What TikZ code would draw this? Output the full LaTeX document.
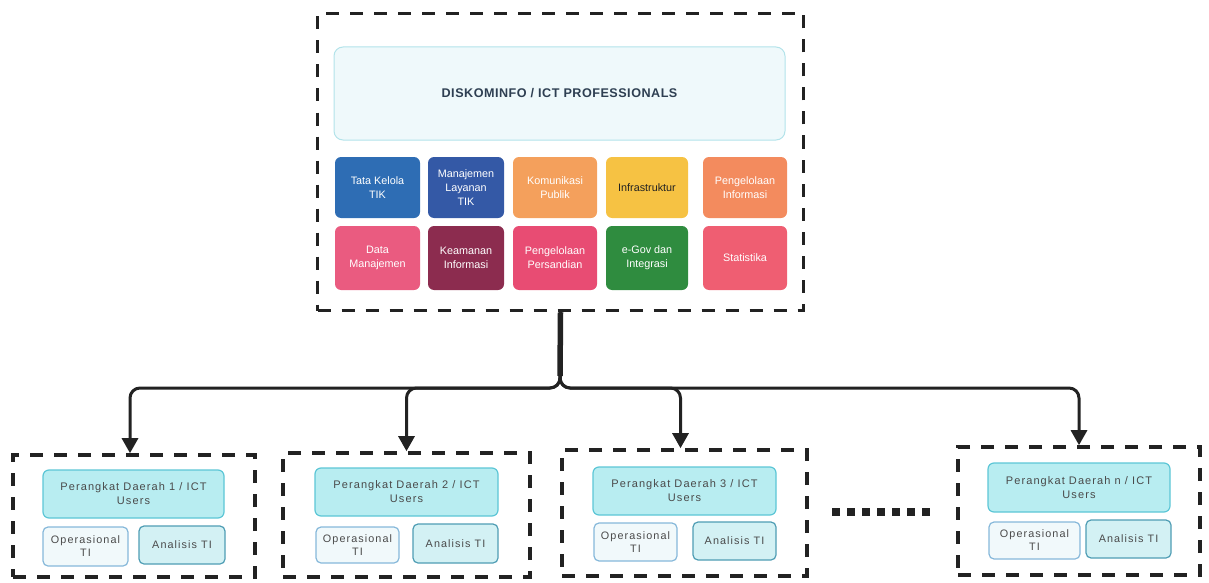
\documentclass[tikz,border=0pt]{standalone}
\usepackage{fontspec}
\setmainfont{Liberation Sans}
\newfontfamily\spacedfont{Liberation Sans}[LetterSpace=10]
\newfontfamily\headfont{Liberation Sans}[LetterSpace=4]
\usetikzlibrary{arrows.meta}
\definecolor{ink}{HTML}{222222}
\definecolor{hdfill}{HTML}{EFF9FB}
\definecolor{hdline}{HTML}{B3E3EA}
\definecolor{hdtext}{HTML}{2E3F52}
\definecolor{cyfill}{HTML}{B8EDF1}
\definecolor{cyline}{HTML}{5CC6D6}
\definecolor{opfill}{HTML}{F1F9FB}
\definecolor{opline}{HTML}{86B8DA}
\definecolor{anfill}{HTML}{D3F1F4}
\definecolor{anline}{HTML}{4F9DB4}
\definecolor{subtext}{HTML}{4A4A4A}
\definecolor{cA}{HTML}{2E6DB4}
\definecolor{cB}{HTML}{3459A6}
\definecolor{cC}{HTML}{F4A05C}
\definecolor{cD}{HTML}{F6C243}
\definecolor{cE}{HTML}{F38B5E}
\definecolor{cF}{HTML}{EA5B80}
\definecolor{cG}{HTML}{8C2C4F}
\definecolor{cH}{HTML}{E84C73}
\definecolor{cI}{HTML}{2F8C3F}
\definecolor{cJ}{HTML}{EF5E72}
\tikzset{
  dashbox/.style={draw=ink, line width=3.6pt, dash pattern=on 13pt off 11pt, inner sep=0pt},
  tile/.style={rounded corners=6pt, inner sep=1pt, align=center, text=white,
    font=\fontsize{10.8}{14}\selectfont},
  hdbox/.style={rounded corners=9pt, draw=hdline, fill=hdfill, line width=1pt, inner sep=0pt,
    font=\headfont\bfseries\fontsize{12.6}{14}\selectfont, text=hdtext},
  userbox/.style={rounded corners=6pt, draw=cyline, fill=cyfill, line width=1.2pt, inner sep=0pt,
    align=center, text=subtext, font=\spacedfont\fontsize{11}{14}\selectfont},
  opbox/.style={rounded corners=5pt, draw=opline, fill=opfill, line width=1.2pt, inner sep=0pt,
    align=center, text=subtext, font=\spacedfont\fontsize{10.8}{13}\selectfont},
  anbox/.style={rounded corners=5pt, draw=anline, fill=anfill, line width=1.2pt, inner sep=0pt,
    align=center, text=subtext, font=\spacedfont\fontsize{10.8}{13}\selectfont},
  stem/.style={draw=ink, line width=5.5pt},
  branch/.style={draw=ink, line width=3pt, rounded corners=10pt,
    -{Triangle[width=16pt,length=15pt]}},
  dotsq/.style={fill=ink, minimum width=8pt, minimum height=8pt, inner sep=0pt}
}
\begin{document}
\begin{tikzpicture}[x=1pt,y=-1pt]
\useasboundingbox (0,0) rectangle (1209,583);
% top box
\node[dashbox, minimum width=486pt, minimum height=297pt] (top) at (560.5,162) {};
\node[hdbox, minimum width=451pt, minimum height=93pt] (hd) at (559.5,93.5) {DISKOMINFO / ICT PROFESSIONALS};
% tiles row 1
\node[tile, fill=cA, minimum width=85pt, minimum height=61pt] (t1) at (377.5,187.5) {Tata Kelola\\TIK};
\node[tile, fill=cB, minimum width=76pt, minimum height=61pt] (t2) at (466,187.5) {Manajemen\\Layanan\\TIK};
\node[tile, fill=cC, minimum width=84pt, minimum height=61pt] (t3) at (555,187.5) {Komunikasi\\Publik};
\node[tile, fill=cD, minimum width=82pt, minimum height=61pt, text=ink] (t4) at (647,187.5) {Infrastruktur};
\node[tile, fill=cE, minimum width=84pt, minimum height=61pt] (t5) at (745,187.5) {Pengelolaan\\Informasi};
% tiles row 2
\node[tile, fill=cF, minimum width=85pt, minimum height=64pt] (t6) at (377.5,258) {Data\\Manajemen};
\node[tile, fill=cG, minimum width=76pt, minimum height=64pt] (t7) at (466,258) {Keamanan\\Informasi};
\node[tile, fill=cH, minimum width=84pt, minimum height=64pt] (t8) at (555,258) {Pengelolaan\\Persandian};
\node[tile, fill=cI, minimum width=82pt, minimum height=64pt] (t9) at (647,258) {e-Gov dan\\Integrasi};
\node[tile, fill=cJ, minimum width=84pt, minimum height=64pt] (t10) at (745,258) {Statistika};
% bottom boxes
\node[dashbox, minimum width=242pt, minimum height=122pt] (b1) at (134,516) {};
\node[dashbox, minimum width=247pt, minimum height=124pt] (b2) at (406.5,515) {};
\node[dashbox, minimum width=245pt, minimum height=126pt] (b3) at (684.5,513) {};
\node[dashbox, minimum width=242pt, minimum height=128pt] (b4) at (1079,511) {};
% box 1 content
\node[userbox, minimum width=181pt, minimum height=48pt] (u1) at (133.5,494) {Perangkat Daerah 1 / ICT\\Users};
\node[opbox, minimum width=85pt, minimum height=39pt] (o1) at (85.5,546.5) {Operasional\\TI};
\node[anbox, minimum width=86pt, minimum height=38pt] (a1) at (182,545) {Analisis TI};
% box 2 content
\node[userbox, minimum width=183pt, minimum height=48pt] (u2) at (406.5,492) {Perangkat Daerah 2 / ICT\\Users};
\node[opbox, minimum width=83pt, minimum height=36pt] (o2) at (357.5,545) {Operasional\\TI};
\node[anbox, minimum width=85pt, minimum height=39pt] (a2) at (455.5,543.5) {Analisis TI};
% box 3 content
\node[userbox, minimum width=183pt, minimum height=48pt] (u3) at (684.5,491) {Perangkat Daerah 3 / ICT\\Users};
\node[opbox, minimum width=83pt, minimum height=38pt] (o3) at (635.5,542) {Operasional\\TI};
\node[anbox, minimum width=83pt, minimum height=38pt] (a3) at (734.5,541) {Analisis TI};
% box n content
\node[userbox, minimum width=182pt, minimum height=49pt] (u4) at (1079,487.5) {Perangkat Daerah n / ICT\\Users};
\node[opbox, minimum width=91pt, minimum height=37pt] (o4) at (1034.5,540.5) {Operasional\\TI};
\node[anbox, minimum width=85pt, minimum height=38pt] (a4) at (1128.5,539) {Analisis TI};
% dots
\foreach \i in {0,...,6} {
  \node[dotsq] (d\i) at ({836+\i*15},512) {};
}
% connectors
\coordinate (j) at (560,388);
\coordinate (s) at (560,376);
\draw[stem] (top.south) -- (s);
\draw[branch] (top.south) -- (j) -| ([xshift=-4pt]b1.north);
\draw[branch] (top.south) -- (j) -| (b2.north);
\draw[branch] (top.south) -- (j) -| ([xshift=-4pt]b3.north);
\draw[branch] (top.south) -- (j) -| (b4.north);
\end{tikzpicture}
\end{document}
